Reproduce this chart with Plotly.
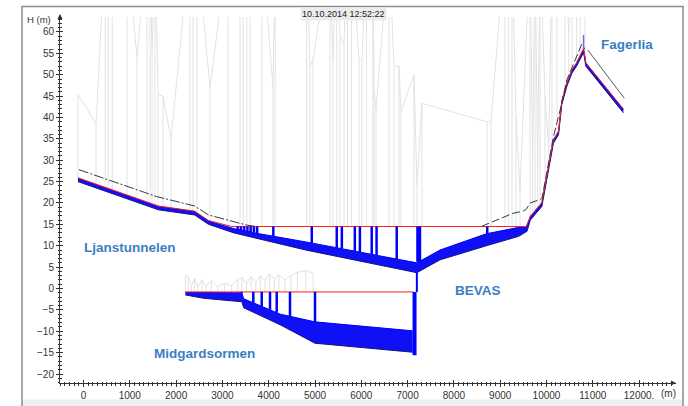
import numpy as np
import plotly.graph_objects as go

# ---------------- data ----------------
# Ljanstunnelen main pipe (chainage m, invert / crown level m)
LJAN_X   = [-120, 250, 1150, 1620, 2400, 2700, 3250, 3800, 4800, 7200, 7700, 8700, 9400, 9580, 9650, 9900, 10150, 10260, 10330, 10440, 10550, 10650, 10800, 10850, 11660]
LJAN_BOT = [25.0, 23.6, 20.3, 18.4, 17.2, 15.0, 13.0, 11.6, 9.0, 3.7, 6.7, 10.0, 12.2, 13.4, 16.0, 19.2, 34.0, 36.0, 43.0, 47.3, 50.4, 52.0, 55.2, 52.0, 41.1]
LJAN_TOP = [25.8, 24.4, 21.1, 19.2, 18.0, 15.8, 14.0, 12.8, 10.9, 6.0, 9.0, 12.8, 14.3, 14.5, 16.8, 20.0, 34.7, 36.7, 43.7, 48.0, 51.1, 52.7, 56.0, 52.7, 41.9]
# Ljanstunnelen water level
LJAN_WL_X = [-120, 250, 1150, 1620, 2400, 2700, 3200, 9560, 9650, 9900, 10150, 10260, 10330, 10440, 10550, 10650, 10800, 10850, 11660]
LJAN_WL_Y = [25.9, 24.5, 21.2, 19.3, 18.1, 15.9, 14.5, 14.5, 16.9, 20.1, 34.8, 36.8, 43.8, 48.1, 51.2, 52.8, 56.1, 52.8, 42.0]
LJAN_MANHOLES = [3330, 3400, 3470, 3540, 3610, 3680, 3750, 4100, 4930, 5470, 5580, 5860, 5970, 6225, 6330, 6765, 8720]
LJAN_SHAFT = [7240]

# Midgardsormen tunnel
MID_X   = [2200, 2600, 3420, 3460, 4250, 5000, 7110]
MID_BOT = [-1.5, -2.3, -3.1, -4.5, -8.5, -12.8, -14.9]
MID_TOP = [-0.9, -0.9, -1.0, -2.4, -6.0, -7.8, -9.9]
MID_WL_X = [2200, 7120]
MID_WL_Y = [-0.8, -0.8]
MID_MANHOLES = [3417, 3667, 3849, 4028, 4173, 4460, 5000]
# connection shaft at BEVAS
LINK_X = [7200, 7200]
LINK_Y = [3.7, -0.8]
DROP_X = [7150, 7150]
DROP_Y = [-0.8, -15.6]

# energy line (dashed)
EL1_X = [-100, 1580, 2400, 2700, 3520, 3700]
EL1_Y = [27.8, 21.5, 19.3, 17.2, 14.85, 14.55]
EL2_X = [8600, 9280, 9500, 9560, 9650, 9900, 10150, 10300, 10440, 10550, 10760, 10830]
EL2_Y = [14.55, 17.6, 18.1, 18.5, 20.0, 21.0, 35.5, 42.0, 48.8, 51.8, 57.1, 56.0]
EL3_X = [10890, 11680]
EL3_Y = [55.8, 44.5]
PEAK_X = [10800, 10800]
PEAK_Y = [56.0, 59.3]

# ground / manhole levels (grey); values above the axis are clipped
GR_LJAN_X = [-120, 270, 470, 530, 620, 940, 1156, 1371, 1436, 1480, 1544, 1610, 1717, 1890, 2300, 2365, 2451, 2732, 3121, 3380, 3450, 3525, 3596, 3855, 4093, 4140, 4820, 4892, 4957, 5325, 5389, 5470, 5540, 5626, 5700, 5790, 5950, 6015, 6110, 6250, 6274, 6318, 6600, 6706, 6814, 6857, 7138, 7203, 7311, 8715, 8801, 9104, 9180, 9255, 9341, 9428, 9644, 9700, 9752, 9810, 9860, 9968, 10050, 10119, 10227, 10400, 10480, 10551, 10650, 10724, 10832]
GR_LJAN_Y = [45.5, 38.5, 80, 80, 80, 80, 54, 80, 80, 55, 80, 45.5, 45, 35, 80, 80, 80, 47, 80, 80, 80, 80, 80, 80, 47, 80, 80, 52, 53.4, 80, 53.5, 80, 59, 57.4, 80, 80, 53.8, 53.5, 80, 80, 46.4, 42, 80, 52, 52, 41.4, 50, 24, 43.3, 39, 39, 80, 80, 80, 40, 23, 80, 30, 80, 28, 80, 45, 33, 80, 80, 80, 60, 80, 80, 80, 80]
GR_MID_X = [2200, 2260, 2330, 2400, 2470, 2560, 2650, 2760, 2900, 3050, 3200, 3330, 3420, 3520, 3620, 3720, 3820, 3920, 4020, 4120, 4220, 4350, 4480, 4620, 4800, 4960]
GR_MID_Y = [3.2, 2.8, 0.5, 2.4, 0.4, 2.0, 0.6, 1.8, 0.4, 1.2, 0.6, 2.2, 2.6, 1.2, 2.8, 1.4, 3.0, 1.8, 3.4, 2.2, 3.2, 2.0, 3.0, 3.8, 4.2, 3.6]

LABELS = ["Fagerlia", "Ljanstunnelen", "BEVAS", "Midgardsormen"]
LABEL_X = [11739, 1002, 8531, 2624]
LABEL_Y = [57.0, 9.5, -0.35, -15.1]

X_TICKS = list(range(0, 12001, 1000))
X_TICKTEXT = [str(v) for v in X_TICKS[:-1]] + ["12000."]
Y_TICKS = list(range(-20, 61, 5))
TIMESTAMP = "10.10.2014 12:52:22"

# ---------------- helpers ----------------
def verticals(xs, y0s, y1s):
    vx, vy = [], []
    for x, a, b in zip(xs, y0s, y1s):
        vx += [x, x, None]
        vy += [a, b, None]
    return vx, vy

FONT = "Liberation Sans, Arial, sans-serif"
BLUE = "#0000ff"
GREY = "rgb(226,226,226)"

fig = go.Figure()

# grey ground / manhole lines
wl_lj = np.interp(GR_LJAN_X, LJAN_WL_X, LJAN_WL_Y)
gx, gy = verticals(GR_LJAN_X, GR_LJAN_Y, wl_lj)
fig.add_trace(go.Scatter(x=gx, y=gy, mode="lines", line=dict(color=GREY, width=1)))
fig.add_trace(go.Scatter(x=GR_LJAN_X, y=GR_LJAN_Y, mode="lines", line=dict(color=GREY, width=1)))
wl_md = np.interp(GR_MID_X, MID_WL_X, MID_WL_Y)
gx, gy = verticals(GR_MID_X, GR_MID_Y, wl_md)
fig.add_trace(go.Scatter(x=gx, y=gy, mode="lines", line=dict(color=GREY, width=1)))
fig.add_trace(go.Scatter(x=GR_MID_X, y=GR_MID_Y, mode="lines", line=dict(color=GREY, width=1)))

# pipe bands
fig.add_trace(go.Scatter(x=LJAN_X, y=LJAN_BOT, mode="lines", line=dict(color="#14147a", width=1)))
fig.add_trace(go.Scatter(x=LJAN_X, y=LJAN_TOP, mode="lines", line=dict(color=BLUE, width=1),
                         fill="tonexty", fillcolor="rgb(16,16,246)"))
fig.add_trace(go.Scatter(x=MID_X, y=MID_BOT, mode="lines", line=dict(color="#14147a", width=1)))
fig.add_trace(go.Scatter(x=MID_X, y=MID_TOP, mode="lines", line=dict(color=BLUE, width=1),
                         fill="tonexty", fillcolor="rgb(16,16,246)"))

# water levels
fig.add_trace(go.Scatter(x=LJAN_WL_X, y=LJAN_WL_Y, mode="lines", line=dict(color="#ff2020", width=1)))
fig.add_trace(go.Scatter(x=MID_WL_X, y=MID_WL_Y, mode="lines", line=dict(color="#ff2020", width=1)))

# manholes (water in shafts)
mx, my = verticals(LJAN_MANHOLES, np.interp(LJAN_MANHOLES, LJAN_X, LJAN_TOP),
                   np.interp(LJAN_MANHOLES, LJAN_WL_X, LJAN_WL_Y))
fig.add_trace(go.Scatter(x=mx, y=my, mode="lines", line=dict(color=BLUE, width=2.5)))
mx, my = verticals(LJAN_SHAFT, np.interp(LJAN_SHAFT, LJAN_X, LJAN_TOP),
                   np.interp(LJAN_SHAFT, LJAN_WL_X, LJAN_WL_Y))
fig.add_trace(go.Scatter(x=mx, y=my, mode="lines", line=dict(color=BLUE, width=5)))
mx, my = verticals(MID_MANHOLES, np.interp(MID_MANHOLES, MID_X, MID_TOP),
                   np.interp(MID_MANHOLES, MID_WL_X, MID_WL_Y))
fig.add_trace(go.Scatter(x=mx, y=my, mode="lines", line=dict(color=BLUE, width=2.5)))
fig.add_trace(go.Scatter(x=LINK_X, y=LINK_Y, mode="lines", line=dict(color=BLUE, width=2)))
fig.add_trace(go.Scatter(x=DROP_X, y=DROP_Y, mode="lines", line=dict(color=BLUE, width=4)))

# energy lines
fig.add_trace(go.Scatter(x=EL1_X, y=EL1_Y, mode="lines",
                         line=dict(color="#3a3a3a", width=1, dash="10px,2px,2px,2px")))
fig.add_trace(go.Scatter(x=EL2_X, y=EL2_Y, mode="lines",
                         line=dict(color="#3a3a3a", width=1, dash="8px,3px")))
fig.add_trace(go.Scatter(x=EL3_X, y=EL3_Y, mode="lines", line=dict(color="#555555", width=1)))
fig.add_trace(go.Scatter(x=PEAK_X, y=PEAK_Y, mode="lines", line=dict(color="#7070d8", width=1.5)))

# dummy for overlay axes
fig.add_trace(go.Scatter(x=[], y=[], xaxis="x2", yaxis="y2", mode="lines"))

for t, x, y in zip(LABELS, LABEL_X, LABEL_Y):
    fig.add_annotation(x=x, y=y, xref="x", yref="y", text=t, showarrow=False,
                       xanchor="center", yanchor="middle",
                       font=dict(family=FONT, size=13.5, color="#3b7ec4", weight="bold"))

XR = [-507.6, 12797]
YR = [-22.1, 63.5]
axis_font = dict(family=FONT, size=10, color="#333333")

fig.update_layout(
    template="none",
    width=688, height=406, autosize=False,
    margin=dict(l=60, r=12, t=17, b=23, pad=0),
    plot_bgcolor="white", paper_bgcolor="white", showlegend=False,
    xaxis=dict(range=XR, automargin=False, showgrid=False, zeroline=False, showline=True,
               linecolor="#333333", linewidth=1, ticks="outside", ticklen=3, tickcolor="#333333",
               tickmode="array", tickvals=X_TICKS, ticktext=X_TICKTEXT, tickfont=axis_font,
               minor=dict(tickmode="linear", tick0=0, dtick=100, ticks="outside", ticklen=1.5,
                          tickcolor="#333333", showgrid=False)),
    xaxis2=dict(range=XR, automargin=False, overlaying="x", anchor="y", side="bottom",
                showgrid=False, zeroline=False, showline=False, showticklabels=False,
                ticks="inside", ticklen=3, tickcolor="#333333", tickmode="array", tickvals=X_TICKS,
                minor=dict(tickmode="linear", tick0=0, dtick=100, ticks="inside", ticklen=1.5,
                           tickcolor="#333333", showgrid=False)),
    yaxis=dict(range=YR, automargin=False, showgrid=False, zeroline=False, showline=True,
               linecolor="#333333", linewidth=1, ticks="outside", ticklen=3, tickcolor="#333333",
               tickmode="array", tickvals=Y_TICKS, tickfont=axis_font,
               minor=dict(tickmode="linear", tick0=0, dtick=1, ticks="outside", ticklen=1.5,
                          tickcolor="#333333", showgrid=False)),
    yaxis2=dict(range=YR, automargin=False, overlaying="y", anchor="x", side="left",
                showgrid=False, zeroline=False, showline=False, showticklabels=False,
                ticks="inside", ticklen=3, tickcolor="#333333", tickmode="array", tickvals=Y_TICKS,
                minor=dict(tickmode="linear", tick0=0, dtick=1, ticks="inside", ticklen=1.5,
                           tickcolor="#333333", showgrid=False)),
)

# frame + bottom strip
fig.add_shape(type="rect", xref="paper", yref="paper", x0=(22 - 60) / 616, x1=(683 - 60) / 616,
              y0=(383 - 399.5) / 366, y1=(383 - 430) / 366, fillcolor="#efefef",
              line=dict(width=0), layer="below")
fig.add_shape(type="rect", xref="paper", yref="paper", x0=(22 - 60) / 616, x1=(683 - 60) / 616,
              y0=(383 - 430) / 366, y1=(383 - 6.5) / 366, line=dict(color="#8c8c8c", width=1.5))

# axis arrows
fig.add_annotation(x=1.0, y=0, xref="paper", yref="paper", ax=-7, ay=0, text="", showarrow=True,
                   arrowhead=2, arrowsize=1, arrowwidth=1, arrowcolor="#333333")
fig.add_annotation(x=0, y=(383 - 14) / 366, xref="paper", yref="paper", ax=0, ay=7, text="",
                   showarrow=True, arrowhead=2, arrowsize=1, arrowwidth=1, arrowcolor="#333333")

# axis titles / timestamp
fig.add_annotation(x=(38.5 - 60) / 616, y=(383 - 19.5) / 366, xref="paper", yref="paper",
                   xanchor="center", yanchor="middle",
                   text="H (m)", showarrow=False, font=dict(family=FONT, size=9.5, color="#333333"))
fig.add_annotation(x=(668 - 60) / 616, y=(383 - 393) / 366, xref="paper", yref="paper",
                   xanchor="center", yanchor="middle",
                   text="(m)", showarrow=False, font=axis_font)
fig.add_annotation(x=(343 - 60) / 616, y=(383 - 14) / 366, xref="paper", yref="paper",
                   xanchor="center", yanchor="middle",
                   text=TIMESTAMP, showarrow=False, bgcolor="#ececec", borderpad=1,
                   font=dict(family=FONT, size=9, color="#222222"))

fig.write_html("out.html")
